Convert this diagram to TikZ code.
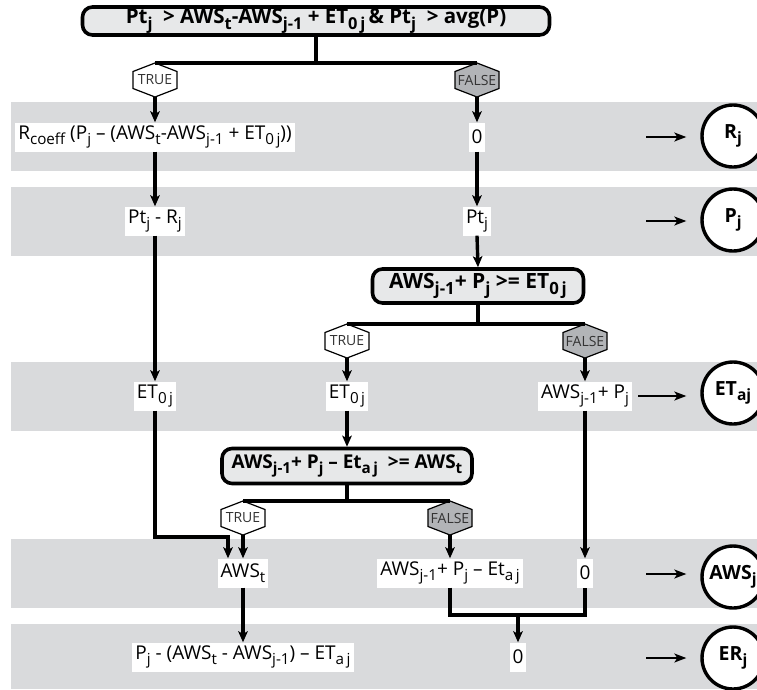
\documentclass[tikz,border=0pt]{standalone}
\usepackage{fontspec}
\setmainfont{Open Sans}
\usetikzlibrary{arrows.meta}
\definecolor{bandgray}{HTML}{D9DADC}
\definecolor{decgray}{HTML}{E7E8E9}
\definecolor{hexgray}{HTML}{B2B4B7}
\definecolor{hextxt}{HTML}{333333}
\newcommand\sbx[1]{\raisebox{-0.28em}{\scalebox{0.8}{#1}}}
\newcommand\hexnode[5]{%
  \filldraw[hexline, fill=#5] ({#2-22},{#3-8.5}) -- (#2,{#3-17}) -- ({#2+22},{#3-8.5})
     -- ({#2+22},{#3+8.5}) -- (#2,{#3+17}) -- ({#2-22},{#3+8.5}) -- cycle;
  \node[hextext] (#1) at (#2,#3) {#4};}
\begin{document}
\begin{tikzpicture}[x=1pt,y=-1pt,
  band/.style={fill=bandgray, draw=none},
  val/.style={fill=white, inner xsep=3pt, inner ysep=0pt, minimum height=29pt, font=\fontsize{19}{22}\selectfont},
  dec/.style={draw, line width=3.6pt, rounded corners=10pt, fill=decgray, inner sep=0pt, font=\bfseries},
  hexline/.style={line width=1.2pt},
  hextext/.style={inner sep=0pt, minimum width=44pt, minimum height=34pt, text=hextxt, font=\fontsize{14}{15}\selectfont},
  conn/.style={line width=3.4pt},
  arr/.style={conn, -{Stealth[length=11pt,width=9.5pt,inset=2.5pt]}},
  thinarr/.style={line width=1.5pt, -{Stealth[length=12pt,width=9pt,inset=3pt]}, shorten >=14pt},
  outc/.style={circle, draw, line width=3.4pt, fill=white, minimum size=62pt, inner sep=0pt, font=\fontsize{19.5}{22}\selectfont\bfseries}
]
\useasboundingbox (0,0) rectangle (757,689);
\fill[white] (0,0) rectangle (757,689);
% bands
\path[band] (11,102) rectangle (757,171);
\path[band] (11,187) rectangle (757,256);
\path[band] (11,362) rectangle (757,431);
\path[band] (11,539) rectangle (757,608);
\path[band] (11,624) rectangle (757,689);

% decisions
\node[dec, minimum width=467pt, minimum height=28pt, font=\fontsize{20.5}{22}\selectfont\bfseries] (d1) at (316,21)
  {Pt\sbx{j}\ \ > AWS\sbx{t}-AWS\sbx{j-1} + ET\sbx{0\,j}\,\& Pt\sbx{j}\ \ > avg(P)};
\node[dec, minimum width=211pt, minimum height=34pt, font=\fontsize{21}{23}\selectfont\bfseries] (d2) at (478,286)
  {AWS\sbx{j-1}+ P\sbx{j} >= ET\sbx{0\,j}};
\node[dec, minimum width=250pt, minimum height=35pt, font=\fontsize{19}{22}\selectfont\bfseries] (d3) at (347,466)
  {AWS\sbx{j-1}+ P\sbx{j} -- Et\sbx{a\,j}\ \ >= AWS\sbx{t}};

% hexagons
\hexnode{t1}{155}{80}{TRUE}{white}
\hexnode{f1}{477}{80}{FALSE}{hexgray}
\hexnode{t2}{347}{341}{TRUE}{white}
\hexnode{f2}{585}{341}{FALSE}{hexgray}
\hexnode{t3}{243}{518}{TRUE}{white}
\hexnode{f3}{450}{518}{FALSE}{hexgray}

% values
\node[val] (r1a) at (155,137) {R\sbx{coeff} (P\sbx{j} -- (AWS\sbx{t}-AWS\sbx{j-1} + ET\sbx{0\,j}))};
\node[val] (r1b) at (477,137) {0};
\node[val] (r2a) at (155,221) {Pt\sbx{j} - R\sbx{j}};
\node[val] (r2b) at (477,221) {Pt\sbx{j}};
\node[val] (r3a) at (155,396) {ET\sbx{0\,j}};
\node[val] (r3b) at (347,396) {ET\sbx{0\,j}};
\node[val] (r3c) at (585,396) {AWS\sbx{j-1}+ P\sbx{j}};
\node[val] (r4a) at (243,573) {AWS\sbx{t}};
\node[val] (r4b) at (450,573) {AWS\sbx{j-1}+ P\sbx{j} -- Et\sbx{a\,j}};
\node[val] (r4c) at (585,573) {0};
\node[val] (r5a) at (243,657) {P\sbx{j} - (AWS\sbx{t} - AWS\sbx{j-1}) -- ET\sbx{a\,j}};
\node[val] (r5b) at (518,657) {0};

% outputs
\node[outc] (c1) at (733,136) {R\sbx{j}};
\node[outc] (c2) at (733,220) {P\sbx{j}};
\node[outc] (c3) at (733,393) {ET\sbx{aj}};
\node[outc] (c4) at (733,577) {AWS\sbx{j}};
\node[outc] (c5) at (733,658) {ER\sbx{j}};

\coordinate (s1) at (646,137);
\coordinate (s2) at (646,221);
\coordinate (s4) at (646,574);
\coordinate (s5) at (646,658);
\draw[thinarr] (s1) -- (s1 -| c1.west);
\draw[thinarr] (s2) -- (s2 -| c2.west);
\draw[thinarr, shorten <=6pt] (r3c.east) -- (r3c.east -| c3.west);
\draw[thinarr] (s4) -- (s4 -| c4.west);
\draw[thinarr] (s5) -- (s5 -| c5.west);

% branches
\draw[conn] (d1.south) -- (d1.south |- t1.north);
\draw[conn] (t1.north) -- (f1.north);
\draw[conn] (d2.south) -- (d2.south |- t2.north);
\draw[conn] (t2.north) -- (f2.north);
\draw[conn] (d3.south) -- (d3.south |- t3.north);
\draw[conn] (t3.north) -- (f3.north);

% flows
\draw[arr] (t1.south) -- (r1a.north);
\draw[arr] (f1.south) -- (r1b.north);
\draw[arr] (r1a.south) -- (r2a.north);
\draw[arr] (r1b.south) -- (r2b.north);
\draw[arr] (r2b.south) -- (d2.north);
\draw[arr] (r2a.south) -- (r3a.north);
\draw[arr] (t2.south) -- (r3b.north);
\draw[arr] (f2.south) -- (r3c.north);
\draw[arr] (r3b.south) -- (d3.north);
\coordinate (k1) at (228,537);
\draw[arr] (r3a.south) |- (k1) -- (k1 |- r4a.north);
\draw[arr] (t3.south) -- (r4a.north);
\draw[arr] (f3.south) -- (r4b.north);
\draw[arr] (r3c.south) -- (r4c.north);
\draw[arr] (r4a.south) -- (r5a.north);
\coordinate (k2) at (518,615);
\draw[conn] (r4b.south) |- (k2) -| (r4c.south);
\draw[arr] (k2) -- (r5b.north);
\end{tikzpicture}
\end{document}
